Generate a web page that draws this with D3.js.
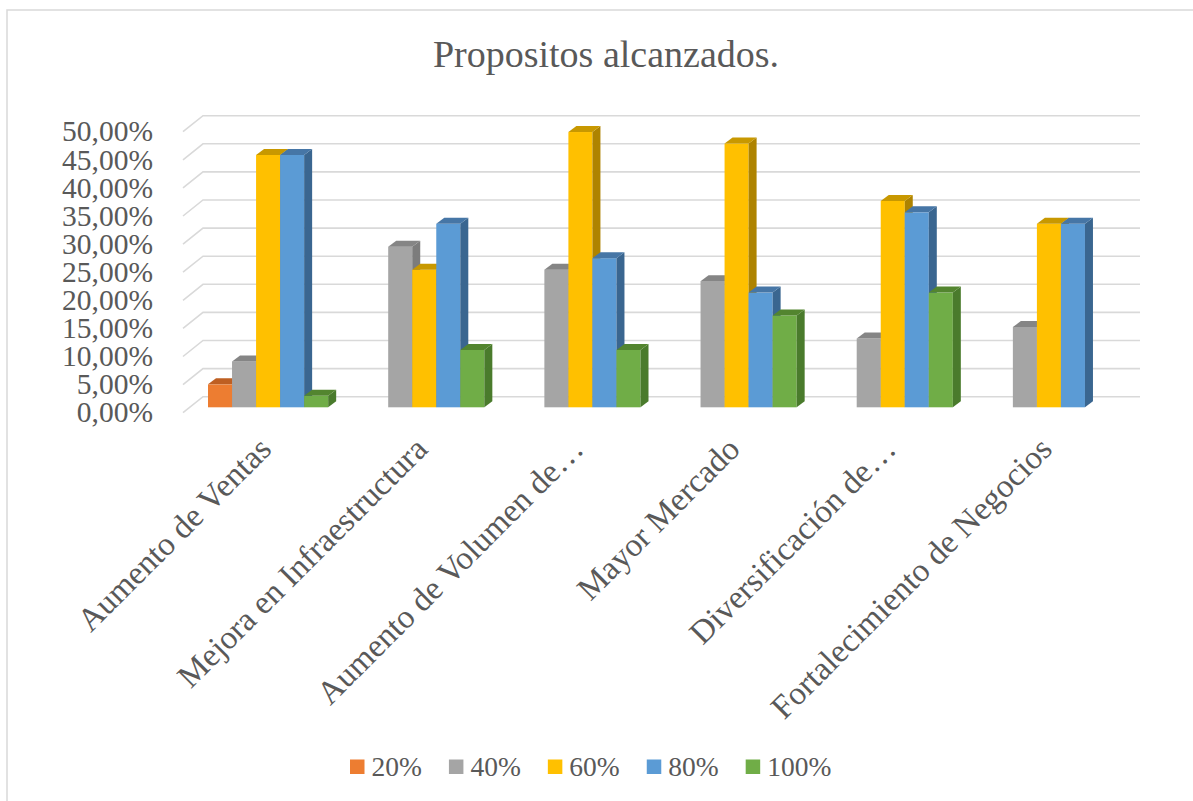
<!DOCTYPE html>
<html>
<head>
<meta charset="utf-8">
<script src="https://cdn.jsdelivr.net/npm/d3@7/dist/d3.min.js"></script>
<style>
  html, body { margin: 0; padding: 0; background: #ffffff; }
  svg { display: block; }
  text { font-family: "Liberation Serif", "Times New Roman", serif; fill: #595959; }
</style>
</head>
<body>
<svg id="chart" width="1193" height="801"></svg>
<script>
// ---- data ----
const categories = ["Aumento de Ventas", "Mejora en Infraestructura", "Aumento de Volumen de…", "Mayor Mercado", "Diversificación de…", "Fortalecimiento de Negocios"];
const seriesNames = ["20%", "40%", "60%", "80%", "100%"];
const s20  = [0.0408, 0, 0, 0, 0, 0];
const s40  = [0.0816, 0.2857, 0.2449, 0.2245, 0.1224, 0.1429];
const s60  = [0.4490, 0.2449, 0.4898, 0.4694, 0.3673, 0.3265];
const s80  = [0.4490, 0.3265, 0.2653, 0.2041, 0.3469, 0.3265];
const s100 = [0.0204, 0.1020, 0.1020, 0.1633, 0.2041, 0];
const seriesValues = [s20, s40, s60, s80, s100];
const yTicks = [0, 0.05, 0.10, 0.15, 0.20, 0.25, 0.30, 0.35, 0.40, 0.45, 0.50];
const title = "Propositos alcanzados.";

// ---- styles ----
const frontColors = ["#ED7D31", "#A5A5A5", "#FFC000", "#5B9BD5", "#70AD47"];
const sideColors  = ["#B05C23", "#7C7C7C", "#AE8300", "#3A6690", "#4A7B2C"];
const topColors   = ["#BE5F22", "#858585", "#C89800", "#4676A6", "#53852F"];

const svg = d3.select("#chart");

// border
svg.append("rect").attr("x", 7).attr("y", 10).attr("width", 1200).attr("height", 820)
  .attr("fill", "none").attr("stroke", "#D9D9D9").attr("stroke-width", 1.5);

// title
svg.append("text").attr("x", 606).attr("y", 67).attr("text-anchor", "middle")
  .style("font-size", "38px").text(title);

// scales (front plane of the floor)
const yFront = d3.scaleLinear().domain([0, 0.5]).range([412.7, 131.7]);
const xFront = d3.scaleBand().domain(categories).range([183, 1120]).padding(0);
const inner = d3.scaleBand().domain(seriesNames)
  .range([18, xFront.bandwidth() - 18]).padding(0);

const wallDX = 20, wallDY = -16;     // full depth of the plot floor
const barOffX = 7, barOffY = -5.4;   // front face of bars
const barDX = 8, barDY = -6;         // depth of bars

// gridlines (back wall + left wall)
const grid = svg.append("g").attr("stroke", "#D9D9D9").attr("stroke-width", 1.6).attr("fill", "none");
yTicks.forEach(t => {
  const yf = yFront(t), yb = yf + wallDY;
  grid.append("path").attr("d", `M${xFront.range()[0]},${yf}L${xFront.range()[0] + wallDX},${yb}H${xFront.range()[1] + wallDX}`);
});

// y axis labels
const fmt = d3.formatLocale({ decimal: ",", thousands: ".", grouping: [3], currency: ["", "€"] }).format(".2%");
svg.append("g").selectAll("text").data(yTicks).join("text")
  .attr("x", 153).attr("y", d => yFront(d)).attr("dy", "0.33em")
  .attr("text-anchor", "end").style("font-size", "29.5px")
  .text(d => fmt(d));

// bars
const bars = svg.append("g");
categories.forEach((c, ci) => {
  seriesNames.forEach((s, si) => {
    const v = seriesValues[si][ci];
    if (!(v > 0)) return;
    const x = xFront(c) + barOffX + inner(s);
    const w = inner.bandwidth();
    const yTop = yFront(v) + barOffY;
    const y0 = yFront(0) + barOffY;
    bars.append("rect").attr("x", x).attr("y", yTop).attr("width", w).attr("height", y0 - yTop)
      .attr("fill", frontColors[si]);
    bars.append("path")
      .attr("d", `M${x + w},${yTop}L${x + w + barDX},${yTop + barDY}L${x + w + barDX},${y0 + barDY}L${x + w},${y0}Z`)
      .attr("fill", sideColors[si]);
    bars.append("path")
      .attr("d", `M${x},${yTop}L${x + barDX},${yTop + barDY}L${x + w + barDX},${yTop + barDY}L${x + w},${yTop}Z`)
      .attr("fill", topColors[si]);
  });
});

// category labels
svg.append("g").selectAll("text").data(categories).join("text")
  .attr("transform", d => `translate(${xFront(d) + barOffX + xFront.bandwidth() / 2 + 5},451) rotate(-45)`)
  .attr("text-anchor", "end").style("font-size", "33px")
  .text(d => d);

// legend
const legend = svg.append("g");
let lx = 350;
seriesNames.forEach((s, si) => {
  legend.append("rect").attr("x", lx).attr("y", 759.5).attr("width", 14.5).attr("height", 14.5)
    .attr("fill", frontColors[si]);
  const t = legend.append("text").attr("x", lx + 21.5).attr("y", 776)
    .style("font-size", "27.5px").text(s);
  lx += 21.5 + t.node().getComputedTextLength() + 27;
});
</script>
</body>
</html>
